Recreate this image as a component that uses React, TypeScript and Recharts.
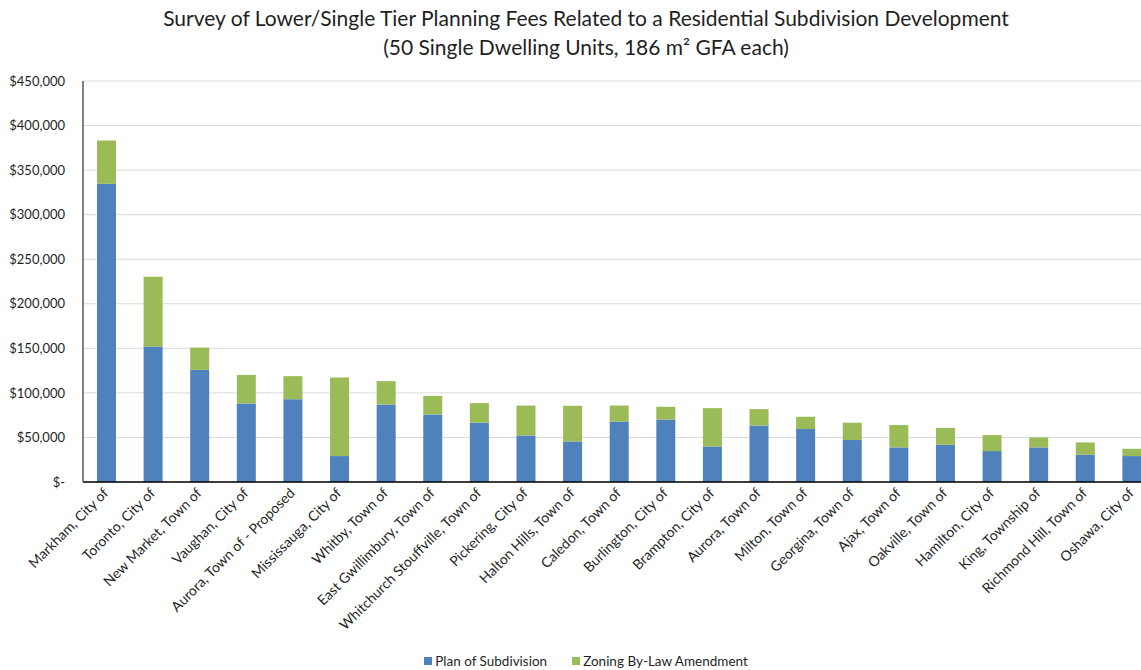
import React from "react";
import { BarChart, Bar, XAxis, YAxis, CartesianGrid, Legend } from "recharts";

const categories = [
  "Markham, City of",
  "Toronto, City of",
  "New Market, Town of",
  "Vaughan, City of",
  "Aurora, Town of - Proposed",
  "Mississauga, City of",
  "Whitby, Town of",
  "East Gwillimbury, Town of",
  "Whitchurch Stouffville, Town of",
  "Pickering, City of",
  "Halton Hills, Town of",
  "Caledon, Town of",
  "Burlington, City of",
  "Brampton, City of",
  "Aurora, Town of",
  "Milton, Town of",
  "Georgina, Town of",
  "Ajax, Town of",
  "Oakville, Town of",
  "Hamilton, City of",
  "King, Township of",
  "Richmond Hill, Town of",
  "Oshawa, City of",
];

const planOfSubdivision = [
  334600, 152000, 125800, 88100, 93000, 29100, 87000, 75800, 66500, 52200, 45500,
  67900, 70100, 39900, 63400, 59400, 47100, 38800, 41800, 34700, 38800, 30600, 29100,
];

const zoningAmendment = [
  48600, 78400, 25000, 32100, 25800, 88100, 26200, 20900, 22000, 33600, 40000,
  17900, 14300, 43000, 18400, 13800, 19400, 25100, 19000, 18000, 11200, 13800, 8200,
];

const yTicks = [0, 50000, 100000, 150000, 200000, 250000, 300000, 350000, 400000, 450000];

const seriesNames = ["Plan of Subdivision", "Zoning By-Law Amendment"];
const seriesColors = ["#4F81BD", "#9BBB59"];

const data = categories.map((name, i) => ({
  name,
  plan: planOfSubdivision[i],
  zoning: zoningAmendment[i],
}));

const FONT = "Lato, 'Open Sans', sans-serif";
const TEXT = "#1f1f1f";

const fmt = (v: number) => (v === 0 ? "$-" : "$" + v.toLocaleString("en-US"));

const XTick = (props: any) => {
  const { x, y, payload } = props;
  const ax = x + 3;
  const ay = y + 12;
  return (
    <text
      x={ax}
      y={ay}
      transform={`rotate(-45, ${ax}, ${ay})`}
      textAnchor="end"
      fontSize={14}
      fontFamily={FONT}
      fill={TEXT}
    >
      {payload.value}
    </text>
  );
};

const LegendContent = () => (
  <div
    style={{
      display: "flex",
      justifyContent: "center",
      fontFamily: FONT,
      fontSize: 13.5,
      color: TEXT,
      gap: 25,
    }}
  >
    {seriesNames.map((n, i) => (
      <div key={n} style={{ display: "flex", alignItems: "center" }}>
        <span
          style={{
            display: "inline-block",
            width: 8,
            height: 8,
            background: seriesColors[i],
            marginRight: 3,
          }}
        />
        <span>{n}</span>
      </div>
    ))}
  </div>
);

export default function App() {
  return (
    <div
      style={{
        position: "absolute",
        left: 0,
        top: 0,
        width: 1141,
        height: 670,
        overflow: "hidden",
        background: "#fff",
      }}
    >
      <div
        style={{
          position: "absolute",
          left: 0,
          top: 3,
          width: 1172,
          textAlign: "center",
          fontFamily: FONT,
          fontSize: 21,
          lineHeight: "29px",
          color: TEXT,
          zIndex: 2,
        }}
      >
        <div>Survey of Lower/Single Tier Planning Fees Related to a Residential Subdivision Development</div>
        <div>(50 Single Dwelling Units, 186 m² GFA each)</div>
      </div>
      <BarChart
        width={1172}
        height={670}
        data={data}
        margin={{ top: 81, right: 17, left: 0, bottom: 0 }}
        barCategoryGap="29%"
      >
        <CartesianGrid vertical={false} stroke="#D9D9D9" strokeWidth={1} />
        <XAxis
          dataKey="name"
          interval={0}
          height={188}
          tickLine={false}
          tickSize={0}
          tickMargin={0}
          axisLine={{ stroke: "#000", strokeWidth: 1.5 }}
          tick={<XTick />}
        />
        <YAxis
          width={83}
          domain={[0, 450000]}
          ticks={yTicks}
          tickFormatter={fmt}
          tickLine={false}
          tickSize={0}
          tickMargin={18}
          axisLine={{ stroke: "#595959", strokeWidth: 1.5 }}
          tick={{ fontSize: 13, fontFamily: FONT, fill: TEXT }}
        />
        <Legend
          layout="horizontal"
          verticalAlign="middle"
          align="center"
          wrapperStyle={{ top: 653, left: 0, width: 1172 }}
          content={<LegendContent />}
        />
        <Bar dataKey="plan" name={seriesNames[0]} stackId="a" fill={seriesColors[0]} barSize={19} isAnimationActive={false} />
        <Bar dataKey="zoning" name={seriesNames[1]} stackId="a" fill={seriesColors[1]} barSize={19} isAnimationActive={false} />
      </BarChart>
    </div>
  );
}
